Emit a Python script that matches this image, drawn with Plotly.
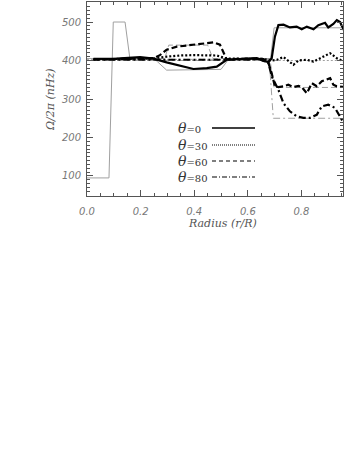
import plotly.graph_objects as go

# inverted profiles (thick black), one per latitude
r_th0 = [0.024, 0.111, 0.198, 0.248, 0.297, 0.347, 0.397, 0.447, 0.484, 0.521, 0.546, 0.596,
         0.633, 0.658, 0.677, 0.689, 0.701, 0.714, 0.733, 0.757, 0.782, 0.801, 0.820, 0.845,
         0.863, 0.888, 0.900, 0.919, 0.932, 0.944, 0.959]
om_th0 = [404, 405, 409, 405, 395, 386, 378, 380, 384, 402, 403, 404,
          406, 399, 396, 406, 462, 492, 493, 486, 488, 481, 488, 481,
          492, 498, 486, 495, 505, 500, 478]

r_th30 = [0.024, 0.111, 0.198, 0.248, 0.297, 0.347, 0.397, 0.447, 0.484, 0.521, 0.596, 0.658,
          0.689, 0.709, 0.733, 0.757, 0.770, 0.789, 0.820, 0.845, 0.870, 0.907, 0.932, 0.959]
om_th30 = [403, 404, 405, 405, 410, 413, 414, 414, 413, 405, 404, 404,
           400, 402, 409, 397, 389, 400, 402, 397, 406, 419, 406, 397]

r_th60 = [0.024, 0.111, 0.198, 0.248, 0.272, 0.297, 0.335, 0.372, 0.409, 0.447, 0.472, 0.496,
          0.509, 0.521, 0.596, 0.658, 0.677, 0.689, 0.701, 0.714, 0.733, 0.751, 0.770, 0.789,
          0.801, 0.820, 0.839, 0.857, 0.876, 0.894, 0.907, 0.919, 0.932, 0.959]
om_th60 = [403, 404, 406, 406, 414, 428, 436, 439, 442, 445, 447, 441,
           419, 403, 405, 404, 393, 367, 333, 331, 333, 337, 331, 334,
           331, 315, 341, 333, 346, 350, 354, 337, 333, 331]

r_th80 = [0.024, 0.111, 0.198, 0.297, 0.397, 0.496, 0.596, 0.646, 0.664, 0.677, 0.689, 0.714,
          0.733, 0.757, 0.782, 0.807, 0.832, 0.857, 0.876, 0.900, 0.925, 0.957]
om_th80 = [402, 402, 401, 401, 401, 401, 402, 404, 398, 393, 359, 324,
           289, 268, 255, 251, 251, 259, 281, 285, 277, 238]

# input model profiles (thin grey)
r_in0 = [0.0, 0.082, 0.098, 0.142, 0.16, 0.25, 0.297, 0.5, 0.53, 0.685, 0.698, 0.955]
om_in0 = [95, 95, 500, 500, 405, 405, 375, 377, 405, 405, 485, 485]

r_in30 = [0.0, 0.685, 0.698, 0.955]
om_in30 = [403, 403, 400, 400]

r_in60 = [0.0, 0.29, 0.305, 0.45, 0.47, 0.682, 0.698, 0.955]
om_in60 = [405, 405, 440, 440, 405, 405, 330, 330]

r_in80 = [0.0, 0.68, 0.695, 0.955]
om_in80 = [400, 400, 250, 250]

legend_labels = ["0", "30", "60", "80"]
dashes = ["solid", "2px,2px", "6px,3px", "7px,3px,2px,3px"]

grey = "#a0a0a0"
axis_col = "#555555"

fig = go.Figure()

inputs = [(r_in0, om_in0), (r_in30, om_in30), (r_in60, om_in60), (r_in80, om_in80)]
for (xs, ys), d in zip(inputs, dashes):
    fig.add_trace(go.Scatter(x=xs, y=ys, mode="lines",
                             line=dict(color=grey, width=1, dash=d), showlegend=False))

outputs = [(r_th0, om_th0), (r_th30, om_th30), (r_th60, om_th60), (r_th80, om_th80)]
for (xs, ys), d in zip(outputs, dashes):
    fig.add_trace(go.Scatter(x=xs, y=ys, mode="lines",
                             line=dict(color="black", width=2.2, dash=d), showlegend=False))

# hand-made legend: label on the left, line sample on the right
def px_x(p):
    return (p - 87) / 256

def px_y(p):
    return (196 - p) / 194

leg_y = [128, 145, 161, 177]
leg_dash = ["solid", "1px,1px", "4px,3px", "5px,2px,1px,2px"]
for lab, d, yy in zip(legend_labels, leg_dash, leg_y):
    fig.add_annotation(x=px_x(176), y=px_y(yy), xref="paper", yref="paper",
                       xanchor="left", yanchor="middle", showarrow=False,
                       text="<i><span style='font-size:14px'>θ</span></i>=" + lab,
                       font=dict(family="DejaVu Serif", size=10, color="#333333"))
    fig.add_shape(type="line", xref="paper", yref="paper",
                  x0=px_x(212), x1=px_x(255), y0=px_y(yy), y1=px_y(yy),
                  line=dict(color="black", width=1.6 if d == "solid" else 1.1, dash=d))

fig.add_annotation(x=px_x(222), y=px_y(223), xref="paper", yref="paper", showarrow=False,
                   xanchor="center", yanchor="middle",
                   text="<i>Radius (r/R)</i>",
                   font=dict(family="DejaVu Serif", size=11, color=axis_col))
fig.add_annotation(x=px_x(50), y=px_y(100), xref="paper", yref="paper", showarrow=False,
                   xanchor="center", yanchor="middle",
                   textangle=-90, text="<i>Ω/2π (nHz)</i>",
                   font=dict(family="DejaVu Serif", size=11, color=axis_col))

tick_font = dict(family="DejaVu Sans", size=10, color="#777777", style="italic")

fig.update_layout(
    width=345, height=464,
    margin=dict(l=87, r=2, t=2, b=268),
    paper_bgcolor="white", plot_bgcolor="white",
    xaxis=dict(range=[0, 0.955], tick0=0, dtick=0.2, tickformat=".1f",
               ticks="inside", ticklen=6, tickcolor=axis_col, mirror="ticks",
               showline=True, linecolor=axis_col, linewidth=1, showgrid=False,
               zeroline=False, tickfont=tick_font, ticklabelstandoff=6,
               minor=dict(dtick=0.05, ticks="inside", ticklen=3, tickcolor=axis_col)),
    yaxis=dict(range=[48, 552], tick0=0, dtick=100,
               ticks="inside", ticklen=6, tickcolor=axis_col, mirror="ticks",
               showline=True, linecolor=axis_col, linewidth=1, showgrid=False,
               zeroline=False, tickfont=tick_font, ticklabelstandoff=3,
               minor=dict(dtick=10, ticks="inside", ticklen=3, tickcolor=axis_col)),
)

# drop the default page margin so the figure sits at the top-left corner
fig.write_html("out.html", config={"displayModeBar": False},
               post_script="document.body.style.margin='0';")
